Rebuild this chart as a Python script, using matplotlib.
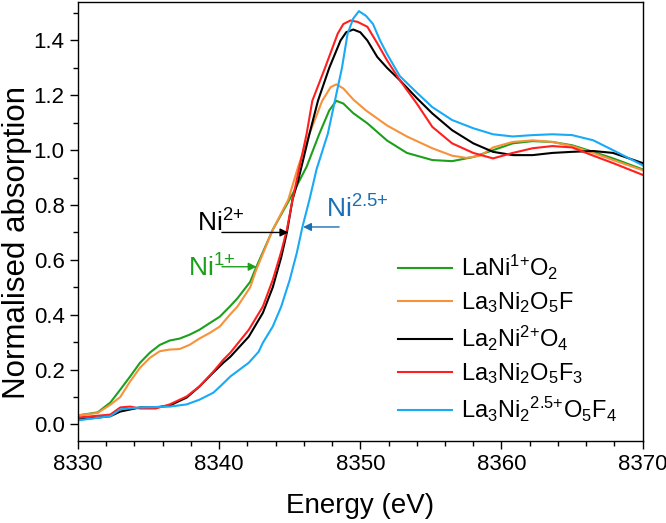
import matplotlib
matplotlib.use("Agg")
import matplotlib.pyplot as plt
from matplotlib.ticker import MultipleLocator, FormatStrFormatter

plt.rcParams["font.family"] = ["Liberation Sans", "DejaVu Sans"]
plt.rcParams["mathtext.fontset"] = "custom"
plt.rcParams["mathtext.rm"] = "Liberation Sans"
plt.rcParams["mathtext.it"] = "Liberation Sans:italic"
plt.rcParams["mathtext.bf"] = "Liberation Sans:bold"
plt.rcParams["mathtext.default"] = "regular"

# --- data (energy in eV, normalised absorption) ---
e_green = [8330.0, 8331.4, 8332.3, 8333.0, 8333.7, 8334.4, 8335.1, 8335.8, 8336.5, 8337.2,
           8337.9, 8338.6, 8339.35, 8340.05, 8340.76, 8341.3, 8342.2, 8342.6, 8343.8, 8345.2,
           8346.2, 8347.1, 8347.8, 8348.3, 8348.8, 8349.5, 8350.5, 8351.9, 8353.3, 8355.1,
           8356.5, 8358.0, 8359.4, 8360.8, 8362.2, 8363.6, 8365.0, 8366.5, 8367.9, 8370.0]
a_green = [0.033, 0.044, 0.080, 0.127, 0.175, 0.225, 0.262, 0.290, 0.306, 0.313,
           0.327, 0.345, 0.370, 0.393, 0.430, 0.460, 0.520, 0.570, 0.710, 0.840,
           0.940, 1.060, 1.145, 1.180, 1.170, 1.135, 1.098, 1.035, 0.990, 0.964,
           0.960, 0.975, 1.000, 1.025, 1.033, 1.030, 1.018, 0.994, 0.970, 0.930]

e_orange = [8330.0, 8331.4, 8332.3, 8333.0, 8333.7, 8334.4, 8335.1, 8335.8, 8336.5, 8337.2,
            8337.9, 8338.6, 8339.35, 8340.05, 8340.76, 8341.3, 8342.2, 8342.6, 8343.8, 8344.9,
            8345.6, 8346.4, 8347.3, 8347.9, 8348.3, 8348.8, 8349.5, 8350.4, 8351.9, 8353.3,
            8355.1, 8356.5, 8357.5, 8358.5, 8359.4, 8360.8, 8362.2, 8363.6, 8365.0, 8366.5,
            8367.9, 8370.0]
a_orange = [0.033, 0.042, 0.072, 0.100, 0.157, 0.207, 0.243, 0.267, 0.273, 0.275,
            0.290, 0.313, 0.334, 0.357, 0.400, 0.430, 0.500, 0.560, 0.710, 0.820,
            0.940, 1.060, 1.180, 1.230, 1.240, 1.225, 1.185, 1.145, 1.090, 1.050,
            1.007, 0.980, 0.972, 0.980, 1.010, 1.030, 1.036, 1.030, 1.015, 0.990,
            0.964, 0.927]

e_black = [8330.0, 8331.4, 8332.3, 8333.0, 8334.4, 8335.5, 8336.5, 8337.7, 8338.6, 8339.6,
           8340.3, 8340.8, 8342.1, 8343.1, 8343.8, 8344.4, 8344.8, 8345.2, 8345.6, 8346.4,
           8347.0, 8347.8, 8348.6, 8349.0, 8349.5, 8350.0, 8350.5, 8351.2, 8351.9, 8352.8,
           8354.0, 8355.1, 8356.5, 8358.0, 8359.4, 8360.8, 8362.2, 8363.6, 8365.0, 8366.5,
           8367.9, 8370.0]
a_black = [0.018, 0.025, 0.030, 0.047, 0.062, 0.062, 0.069, 0.098, 0.138, 0.190,
           0.225, 0.247, 0.320, 0.407, 0.500, 0.610, 0.700, 0.820, 0.890, 1.060,
           1.180, 1.300, 1.400, 1.430, 1.440, 1.430, 1.400, 1.340, 1.300, 1.255,
           1.190, 1.134, 1.073, 1.025, 0.994, 0.982, 0.982, 0.990, 0.994, 0.997,
           0.990, 0.953]

e_red = [8330.0, 8332.3, 8333.0, 8333.7, 8334.4, 8335.5, 8336.5, 8337.7, 8338.6, 8339.6,
         8340.3, 8340.8, 8342.1, 8343.1, 8343.8, 8344.4, 8344.8, 8345.2, 8346.2, 8346.6,
         8347.5, 8348.4, 8348.8, 8349.3, 8349.8, 8350.5, 8351.2, 8351.9, 8352.8, 8354.0,
         8355.1, 8356.5, 8358.0, 8359.4, 8360.8, 8362.2, 8363.6, 8365.0, 8366.5, 8367.9,
         8370.0]
a_red = [0.025, 0.036, 0.062, 0.065, 0.058, 0.058, 0.073, 0.102, 0.138, 0.193,
         0.236, 0.262, 0.345, 0.430, 0.527, 0.630, 0.710, 0.820, 1.060, 1.180,
         1.300, 1.425, 1.460, 1.473, 1.468, 1.450, 1.390, 1.327, 1.255, 1.170,
         1.085, 1.025, 0.990, 0.970, 0.990, 1.007, 1.015, 1.010, 0.980, 0.953,
         0.910]

e_blue = [8330.0, 8332.3, 8333.0, 8334.4, 8336.5, 8337.7, 8338.6, 8339.6, 8340.1, 8340.8,
          8342.1, 8342.8, 8343.1, 8343.8, 8344.4, 8345.0, 8345.5, 8345.9, 8346.4, 8346.9,
          8347.7, 8348.2, 8348.7, 8349.1, 8349.5, 8349.9, 8350.4, 8350.9, 8351.4, 8351.9,
          8352.8, 8354.0, 8355.1, 8356.5, 8358.0, 8359.4, 8360.8, 8362.2, 8363.6, 8365.0,
          8366.5, 8367.9, 8370.0]
a_blue = [0.015, 0.030, 0.055, 0.062, 0.065, 0.073, 0.090, 0.116, 0.140, 0.175,
          0.225, 0.265, 0.298, 0.357, 0.430, 0.527, 0.625, 0.720, 0.820, 0.930,
          1.060, 1.180, 1.300, 1.425, 1.480, 1.507, 1.490, 1.460, 1.400, 1.350,
          1.270, 1.210, 1.157, 1.110, 1.080, 1.058, 1.050, 1.055, 1.058, 1.055,
          1.036, 1.000, 0.945]

labels = ["LaNi$^{1{+}}$O$_2$", "La$_3$Ni$_2$O$_5$F", "La$_2$Ni$^{2{+}}$O$_4$",
          "La$_3$Ni$_2$O$_5$F$_3$", "La$_3$Ni$_2$$^{2.5{+}}$O$_5$F$_4$"]
colors = ["#1ca01c", "#f7923a", "#000000", "#ff1f1f", "#18aaf5"]

fig = plt.figure(figsize=(6.66, 5.23), dpi=100)
ax = fig.add_axes([0.117, 0.157, 0.848, 0.839])

series = [(e_green, a_green), (e_orange, a_orange), (e_black, a_black),
          (e_red, a_red), (e_blue, a_blue)]
for (e, a), lab, c in zip(series, labels, colors):
    ax.plot(e, a, color=c, lw=1.5, label=lab)

ax.set_xlim(8330, 8370)
ax.set_ylim(-0.06, 1.54)
ax.xaxis.set_major_locator(MultipleLocator(10))
ax.xaxis.set_minor_locator(MultipleLocator(2))
ax.yaxis.set_major_locator(MultipleLocator(0.2))
ax.yaxis.set_minor_locator(MultipleLocator(0.1))
ax.yaxis.set_major_formatter(FormatStrFormatter("%.1f"))
ax.tick_params(which="both", direction="out", top=False, right=False, labelsize=16)
ax.tick_params(which="major", length=6, width=1)
ax.tick_params(which="minor", length=3.5, width=1)
for s in ax.spines.values():
    s.set_linewidth(1)

ax.set_xlabel("Energy (eV)", fontsize=20, labelpad=13)
ax.set_ylabel("Normalised absorption", fontsize=22.5)
ax.yaxis.set_label_coords(-0.082, 0.453)

# oxidation state markers
ax.annotate("", xy=(8344.9, 0.70), xytext=(8340.2, 0.70),
            arrowprops=dict(arrowstyle="-|>", color="black", lw=1, mutation_scale=12,
                            shrinkA=0, shrinkB=0))
ax.text(8338.4, 0.702, "Ni$^{2{+}}$", fontsize=19, color="black", va="baseline")

ax.annotate("", xy=(8342.65, 0.575), xytext=(8340.2, 0.575),
            arrowprops=dict(arrowstyle="-|>", color="#1ca01c", lw=1, mutation_scale=12,
                            shrinkA=0, shrinkB=0))
ax.text(8337.8, 0.538, "Ni$^{1{+}}$", fontsize=19, color="#1ca01c", va="baseline")

ax.annotate("", xy=(8345.95, 0.72), xytext=(8348.5, 0.72),
            arrowprops=dict(arrowstyle="-|>", color="#1b6fb5", lw=1, mutation_scale=12,
                            shrinkA=0, shrinkB=0))
ax.text(8347.6, 0.753, "Ni$^{2.5{+}}$", fontsize=19, color="#1b6fb5", va="baseline")

ax.legend(loc="upper left", bbox_to_anchor=(0.55, 0.45), frameon=False, fontsize=17,
          handlelength=2.3, handletextpad=0.35, labelspacing=0.36, borderaxespad=0)

fig.savefig("out.png", dpi=100)
